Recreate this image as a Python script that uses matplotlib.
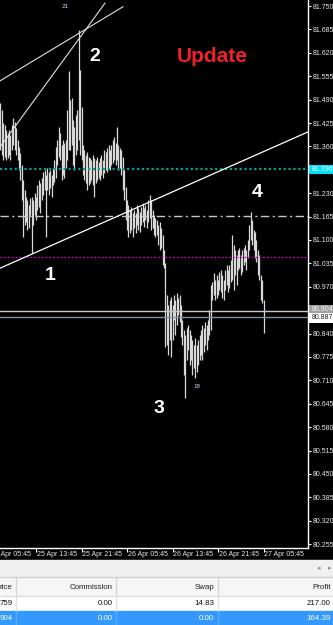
import numpy as np
import pandas as pd
import matplotlib
matplotlib.use('Agg')
import matplotlib.pyplot as plt
import matplotlib.patches as mpatches
import matplotlib.transforms as mtransforms

plt.rcParams['font.family'] = ['Liberation Sans', 'DejaVu Sans']

# M15 bars, 25 Apr 07:30 -> 27 Apr 05:45
axis_start = pd.Timestamp('2021-04-25 05:45')
bar_times = pd.date_range('2021-04-25 07:30', periods=186, freq='15min')

highs = [
    81.481, 81.461, 81.425, 81.419, 81.406, 81.397, 81.406, 81.392, 81.419, 81.439,
    81.428, 81.411, 81.378, 81.358, 81.342, 81.308, 81.267, 81.239, 81.219, 81.211,
    81.197, 81.217, 81.219, 81.211, 81.231, 81.219, 81.253, 81.267, 81.258, 81.272,
    81.289, 81.294, 81.281, 81.300, 81.289, 81.294, 81.281, 81.300, 81.322, 81.358,
    81.378, 81.414, 81.397, 81.364, 81.378, 81.369, 81.378, 81.461, 81.570, 81.489,
    81.494, 81.433, 81.414, 81.447, 81.461, 81.683, 81.572, 81.469, 81.364, 81.350,
    81.336, 81.344, 81.331, 81.328, 81.322, 81.336, 81.328, 81.322, 81.331, 81.317,
    81.328, 81.336, 81.322, 81.350, 81.344, 81.356, 81.364, 81.350, 81.364, 81.378,
    81.386, 81.369, 81.414, 81.364, 81.356, 81.350, 81.331, 81.294, 81.247, 81.211,
    81.197, 81.183, 81.192, 81.175, 81.183, 81.175, 81.197, 81.189, 81.178, 81.192,
    81.203, 81.189, 81.197, 81.183, 81.211, 81.225, 81.211, 81.183, 81.169, 81.161,
    81.156, 81.142, 81.150, 81.133, 81.114, 81.072, 81.036, 80.947, 80.919, 80.933,
    80.942, 80.919, 80.947, 80.933, 80.953, 80.939, 80.947, 80.919, 80.878, 80.850,
    80.836, 80.856, 80.864, 80.850, 80.836, 80.822, 80.808, 80.828, 80.808, 80.822,
    80.836, 80.850, 80.864, 80.856, 80.872, 80.864, 80.878, 80.906, 80.975, 80.983,
    81.008, 80.989, 81.003, 80.989, 81.011, 81.017, 81.003, 80.989, 81.017, 81.031,
    81.017, 81.031, 81.044, 81.114, 81.086, 81.072, 81.058, 81.072, 81.078, 81.058,
    81.072, 81.078, 81.086, 81.072, 81.100, 81.142, 81.178, 81.156, 81.128, 81.122,
    81.100, 81.072, 81.058, 81.003, 80.989, 80.933,
]
lows = [
    81.350, 81.336, 81.322, 81.331, 81.322, 81.328, 81.336, 81.322, 81.350, 81.364,
    81.350, 81.336, 81.322, 81.294, 81.267, 81.211, 81.108, 81.142, 81.150, 81.128,
    81.133, 81.169, 81.064, 81.142, 81.169, 81.156, 81.183, 81.192, 81.175, 81.211,
    81.225, 81.239, 81.108, 81.239, 81.225, 81.244, 81.219, 81.253, 81.261, 81.272,
    81.308, 81.331, 81.322, 81.267, 81.281, 81.272, 81.300, 81.322, 81.350, 81.350,
    81.364, 81.308, 81.294, 81.336, 81.350, 81.378, 81.336, 81.322, 81.281, 81.267,
    81.258, 81.239, 81.253, 81.258, 81.267, 81.253, 81.219, 81.258, 81.267, 81.272,
    81.267, 81.281, 81.272, 81.286, 81.294, 81.289, 81.300, 81.294, 81.308, 81.314,
    81.322, 81.308, 81.322, 81.294, 81.300, 81.281, 81.239, 81.211, 81.156, 81.128,
    81.108, 81.119, 81.128, 81.108, 81.133, 81.119, 81.142, 81.128, 81.122, 81.142,
    81.150, 81.136, 81.156, 81.133, 81.150, 81.161, 81.128, 81.133, 81.114, 81.108,
    81.114, 81.086, 81.072, 81.078, 81.031, 81.022, 80.803, 80.808, 80.781, 80.822,
    80.775, 80.822, 80.878, 80.836, 80.864, 80.892, 80.872, 80.831, 80.808, 80.725,
    80.661, 80.767, 80.794, 80.753, 80.767, 80.725, 80.744, 80.717, 80.733, 80.753,
    80.767, 80.781, 80.767, 80.789, 80.808, 80.794, 80.822, 80.836, 80.850, 80.933,
    80.947, 80.933, 80.939, 80.947, 80.961, 80.956, 80.939, 80.933, 80.961, 80.975,
    80.956, 80.967, 80.983, 80.989, 80.961, 81.003, 80.975, 81.017, 81.022, 81.003,
    81.011, 81.031, 81.039, 81.017, 81.050, 81.072, 81.100, 81.086, 81.072, 81.050,
    81.039, 81.003, 80.989, 80.933, 80.925, 80.842,
]

time_ticks = pd.date_range('2021-04-25 05:45', periods=7, freq='8h')
time_labels = [t.strftime('%d %b %H:%M') for t in time_ticks]
price_ticks = [81.750, 81.685, 81.620, 81.555, 81.490, 81.425, 81.360, 81.230,
               81.165, 81.100, 81.035, 80.970, 80.840, 80.775, 80.710, 80.645,
               80.580, 80.515, 80.450, 80.385, 80.320, 80.255]

# horizontal levels
teal_level = 81.296
dashdot_level = 81.167
magenta_level = 81.053
order_level = 80.904
bid_level = 80.887

# trend lines (hours from 25 Apr 05:45, price)
support_t = [7.30, 28.04]
support_p = [81.061, 81.206]
fan_a_t = [1.67, 23.30]
fan_a_p = [81.542, 81.748]
fan_b_t = [1.67, 20.13]
fan_b_p = [81.358, 81.758]

wave_labels = ['1', '2', '3', '4']
wave_t = [10.46, 18.37, 29.63, 46.86]
wave_p = [81.000, 81.609, 80.631, 81.231]

table_header = ['rice', 'Commission', 'Swap', 'Profit']
table_rows = [['759', '0.00', '14.83', '217.00'],
              ['904', '0.00', '0.00', '164.39']]

hours = (bar_times - axis_start) / pd.Timedelta(hours=1)
tick_hours = (time_ticks - axis_start) / pd.Timedelta(hours=1)

W, H = 333, 625
fig = plt.figure(figsize=(W / 100, H / 100), dpi=100)

# terminal background / table panel (pixel coords)
bg = fig.add_axes([0, 0, 1, 1], zorder=0)
bg.set_xlim(0, W)
bg.set_ylim(H, 0)
bg.axis('off')
bg.add_patch(mpatches.Rectangle((0, 0), W, 560, color='black'))
bg.add_patch(mpatches.Rectangle((0, 560), W, 18, color='#f0f0f0'))
bg.add_patch(mpatches.Rectangle((0, 577), W, 19, color='#f6f6f6'))
bg.add_patch(mpatches.Rectangle((0, 596), W, 15, color='white'))
bg.add_patch(mpatches.Rectangle((0, 611), W, 14, color='#3399ff'))
bg.hlines([577, 595.5], 0, W, colors=['#d0d0d0', '#dcdcdc'], lw=1)
for xs in [15.5, 115.5, 217.5]:
    bg.vlines(xs, 578, 595, colors='#d4d4d4', lw=1)
    bg.vlines(xs, 596, 611, colors='#e4e4e4', lw=1)
    bg.vlines(xs, 611, 625, colors='#5aaaff', lw=1)
bg.text(319, 569, '◂', fontsize=5, color='#909090', ha='center', va='center')
bg.text(330, 569, '▸', fontsize=5, color='#909090', ha='center', va='center')
col_x = [12.5, 113, 214, 331]
for x, s in zip(col_x, table_header):
    bg.text(x, 587.5, s, fontsize=5.7, color='#202020', ha='right', va='center')
for row, y, c in zip(table_rows, [603.5, 618.5], ['#101010', 'white']):
    for x, s in zip(col_x, row):
        bg.text(x, y, s, fontsize=5.7, color=c, ha='right', va='center')

# price chart
ax = fig.add_axes([0, (H - 548) / H, 308 / W, 548 / H], zorder=1)
ax.set_facecolor('black')
ax.set_xlim(1.67, 55.82)
ax.set_ylim(80.2444, 81.7667)

ax.vlines(hours, lows, highs, colors='#d8d8d8', lw=0.9)

ax.axhline(teal_level, color='#00a0a0', lw=1.6, dashes=(1, 1.2))
ax.axhline(dashdot_level, color='#c8c8c8', lw=1, dashes=(6, 2.5, 1.5, 2.5))
ax.axhline(magenta_level, color='#c800c8', lw=0.9, dashes=(1.5, 1.5))
ax.axhline(order_level, color='#c8c8c8', lw=1)
ax.axhline(bid_level, color='#7890a8', lw=1)

ax.axline((support_t[0], support_p[0]), (support_t[1], support_p[1]), color='white', lw=0.9)
ax.plot(fan_a_t, fan_a_p, color='#e0e0e0', lw=0.8)
ax.plot(fan_b_t, fan_b_p, color='#e0e0e0', lw=0.8)

for s, t, p in zip(wave_labels, wave_t, wave_p):
    ax.text(t, p, s, fontsize=14, fontweight='bold', color='white', ha='center', va='center')
ax.text(39.03, 81.610, 'Update', fontsize=15, fontweight='bold', color='#f0202a',
        ha='center', va='center')
ax.text(13.1, 81.748, '21', fontsize=4.5, color='#c8dcff', ha='center', va='center')
ax.text(36.31, 80.692, '18', fontsize=4.5, color='#c8dcff', ha='center', va='center')

# axes styling
for side in ['left', 'top']:
    ax.spines[side].set_visible(False)
for side in ['right', 'bottom']:
    ax.spines[side].set_color('white')
    ax.spines[side].set_linewidth(1)
ax.yaxis.tick_right()
ax.set_yticks(price_ticks)
ax.set_yticklabels(['%.3f' % p for p in price_ticks])
ax.tick_params(axis='y', colors='white', length=2, width=0.8, pad=1.5,
               labelsize=5, labelcolor='#e8e8e8')
ax.set_xticks(tick_hours[1:])
ax.set_xticklabels([])
ax.tick_params(axis='x', colors='white', length=3, width=0.8)

xt = mtransforms.blended_transform_factory(ax.transData, ax.transAxes)
for t, s in zip(tick_hours, time_labels):
    ax.text(t + 0.15, -6.5 / 548, s, transform=xt, fontsize=5, color='#e8e8e8',
            ha='left', va='center', clip_on=False)

# price boxes on the axis
yt = ax.get_yaxis_transform()
box_h = 9.5 / 360
for p, fc, tc in [(teal_level, '#00e1ff', 'white'),
                  (order_level + 0.002, '#a0a0a0', '#f4f4f4'),
                  (bid_level - 0.003, 'white', '#202020')]:
    ax.add_patch(mpatches.Rectangle((1.003, p - box_h / 2), 0.085, box_h, transform=yt,
                                    fc=fc, ec='none', clip_on=False))
label_vals = [teal_level, order_level, bid_level]
for p, y, tc in zip(label_vals, [teal_level, order_level + 0.002, bid_level - 0.003],
                    ['white', '#f4f4f4', '#202020']):
    ax.text(1.013, y, '%.3f' % p, transform=yt, fontsize=5, color=tc,
            ha='left', va='center', clip_on=False)

fig.savefig('out.png', dpi=100, facecolor='black')
